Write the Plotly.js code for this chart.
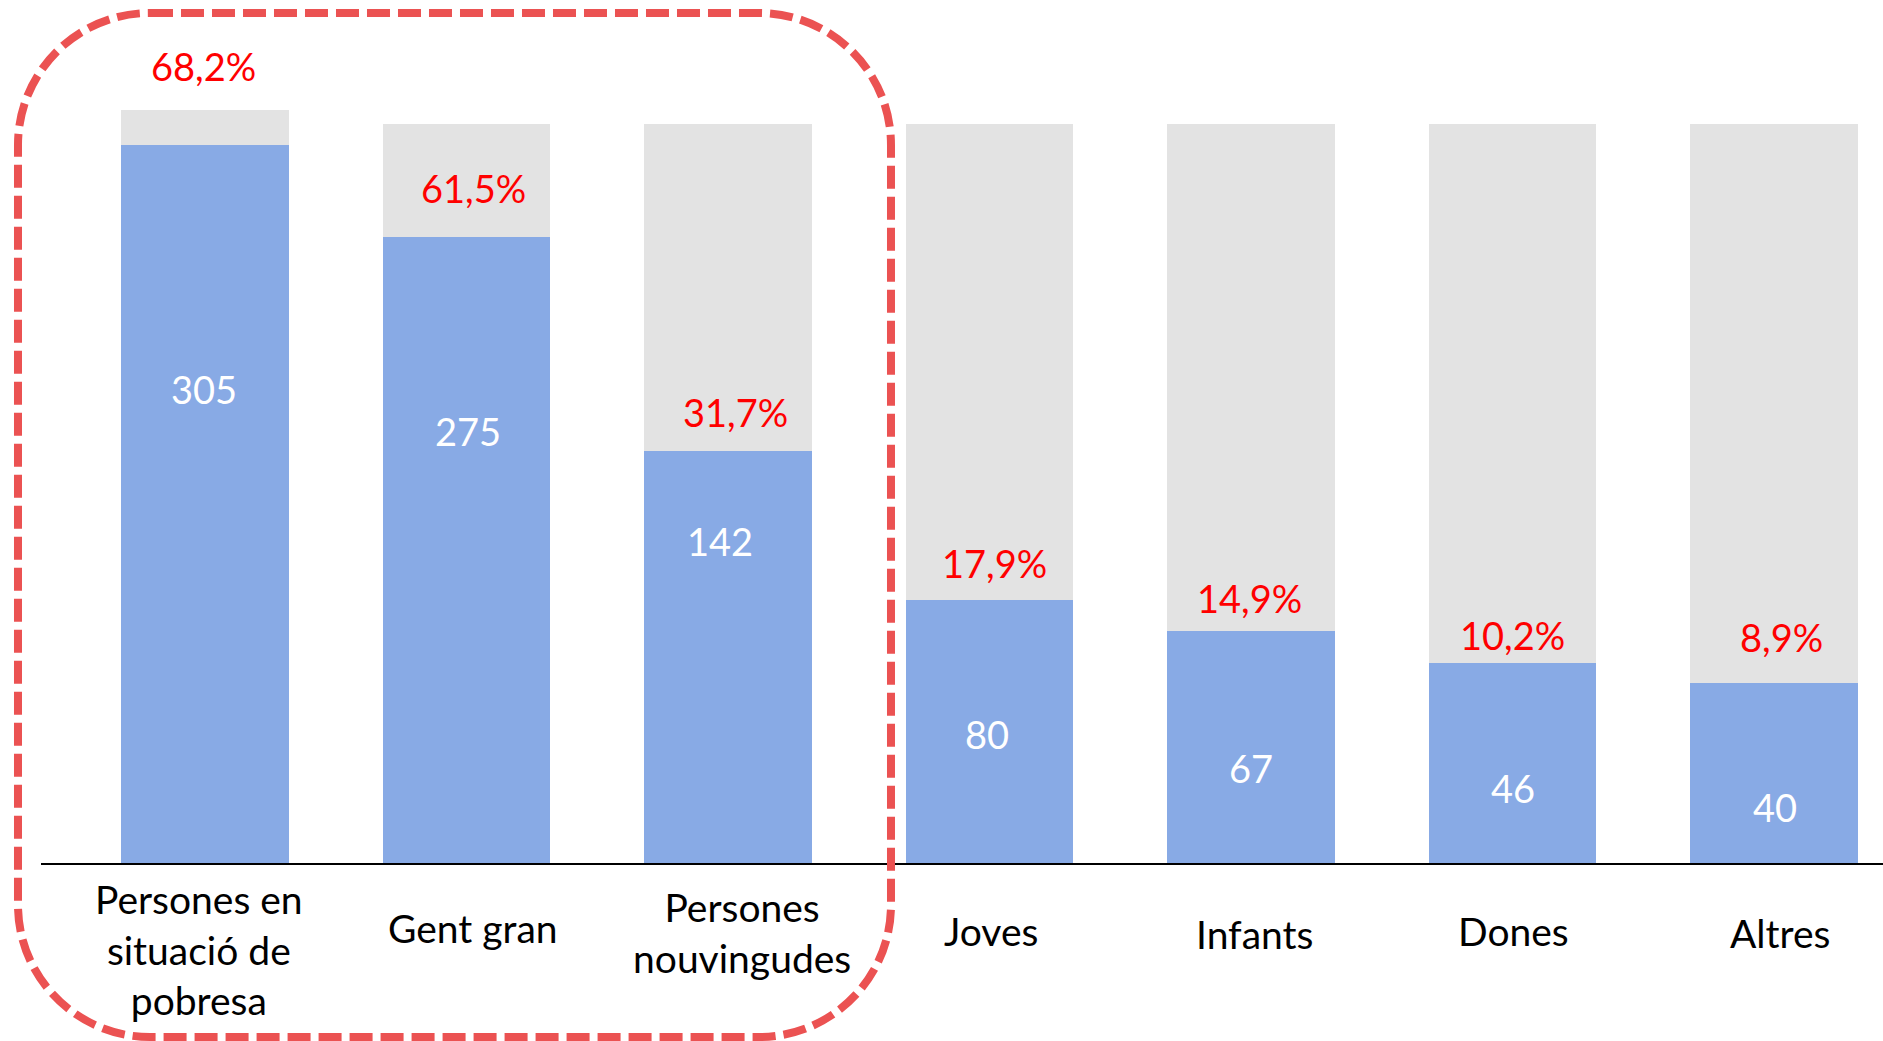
<!DOCTYPE html>
<html>
<head>
<meta charset="utf-8">
<script src="https://cdn.plot.ly/plotly-3.0.1.min.js"></script>
<style>html,body{margin:0;padding:0;background:#fff;}#chart{width:1883px;height:1041px;}</style>
</head>
<body>
<div id="chart"></div>
<script>
// ---- data ----
const categories = ["Persones en<br>situació de<br>pobresa", "Gent gran", "Persones<br>nouvingudes", "Joves", "Infants", "Dones", "Altres"];
const counts = [305, 275, 142, 80, 67, 46, 40];
const pctLabels = ["68,2%", "61,5%", "31,7%", "17,9%", "14,9%", "10,2%", "8,9%"];
// drawn bar heights (relative units, full grey column of most bars = 100)
const blueHeight = [97.2, 84.7, 55.8, 35.6, 31.4, 27.1, 24.4];
const totalHeight = [101.9, 100, 100, 100, 100, 100, 100];

// ---- styling / placement ----
const FONT = "Lato, 'Open Sans', sans-serif";
const W = 1883, H = 1041, ML = 41, MB = 178;
const plotW = W - ML, plotH = H - MB;
const unitPx = 7.39;
const yMax = plotH / unitPx;
const countFrac = [0.66, 0.69, 0.78, 0.49, 0.41, 0.375, 0.31];
const countDx = [-1, 2, -8, -2, 0, 1, 1];
const pctDy = [79, 49, 39, 37, 33, 28, 46];
const pctDx = [-1, 7, 8, 5, -1, 0, 8];
const catDx = [-6, 7, 14, 2, 4, 1, 6];
const catY = [949, 928, 932, 931, 934, 931, 933];

const idx = categories.map((_, i) => i);
const greyPart = totalHeight.map((t, i) => t - blueHeight[i]);

const traces = [
  {type: "bar", x: idx, y: blueHeight, marker: {color: "#88AAE5"}, hoverinfo: "skip", name: "blue"},
  {type: "bar", x: idx, y: greyPart, marker: {color: "#E3E3E3"}, hoverinfo: "skip", name: "grey"}
];

const annotations = [];
idx.forEach(i => {
  annotations.push({x: i, y: blueHeight[i] * countFrac[i], xref: "x", yref: "y", text: String(counts[i]),
    showarrow: false, xshift: countDx[i], font: {family: FONT, size: 38, color: "#ffffff"}, yanchor: "middle"});
  annotations.push({x: i, y: blueHeight[i], xref: "x", yref: "y", text: pctLabels[i],
    showarrow: false, yshift: pctDy[i], xshift: pctDx[i], font: {family: FONT, size: 38, color: "#ff0000"}, yanchor: "middle"});
  annotations.push({x: i, y: (plotH - catY[i]) / plotH, xref: "x", yref: "paper", text: categories[i],
    showarrow: false, xshift: catDx[i], font: {family: FONT, size: 39, color: "#000000"}, yanchor: "middle", align: "center"});
});

// dashed rounded frame around the first three groups (pixel geometry -> paper)
const px = v => (v - ML) / plotW;
const py = v => (plotH - v) / plotH;
const L = 18, T = 13, R = 891, B = 1037, r = 132, k = 0.5523 * r;
const P = (x, y) => px(x).toFixed(5) + "," + py(y).toFixed(5);
const framePath = "M" + P(L + r, T) + " L" + P(R - r, T) +
  " C" + P(R - r + k, T) + " " + P(R, T + r - k) + " " + P(R, T + r) +
  " L" + P(R, B - r) +
  " C" + P(R, B - r + k) + " " + P(R - r + k, B) + " " + P(R - r, B) +
  " L" + P(L + r, B) +
  " C" + P(L + r - k, B) + " " + P(L, B - r + k) + " " + P(L, B - r) +
  " L" + P(L, T + r) +
  " C" + P(L, T + r - k) + " " + P(L + r - k, T) + " " + P(L + r, T) + " Z";

const layout = {
  width: W, height: H,
  margin: {l: ML, r: 0, t: 0, b: MB, pad: 0},
  paper_bgcolor: "#ffffff", plot_bgcolor: "#ffffff",
  barmode: "stack", bargap: 0.36,
  showlegend: false,
  xaxis: {range: [-0.627, 6.417], showticklabels: false, ticks: "", showgrid: false, zeroline: false,
          showline: true, linecolor: "#000000", linewidth: 1.5, fixedrange: true},
  yaxis: {range: [0, yMax], visible: false, showgrid: false, zeroline: false, fixedrange: true},
  annotations: annotations,
  shapes: [{type: "path", xref: "paper", yref: "paper", path: framePath,
            line: {color: "#EB5252", width: 8, dash: "23px,8px"}, fillcolor: "rgba(0,0,0,0)", layer: "above"}]
};

Plotly.newPlot("chart", traces, layout, {displayModeBar: false, staticPlot: true});
</script>
</body>
</html>
